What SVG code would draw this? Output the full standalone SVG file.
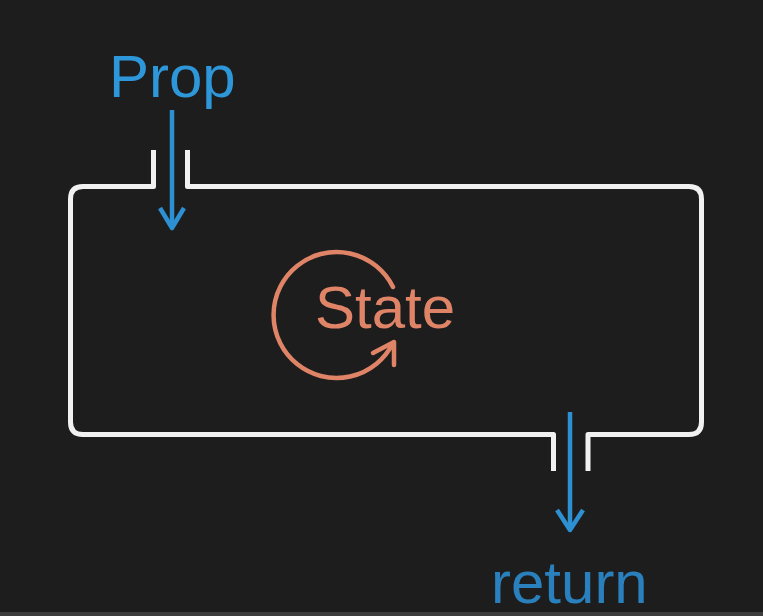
<svg xmlns="http://www.w3.org/2000/svg" width="763" height="616" viewBox="0 0 763 616">
<style>
.frame{fill:none;stroke:#f1f1f1;stroke-width:5;stroke-linejoin:round;stroke-linecap:butt}
.flow{fill:none;stroke:#2d90d2;stroke-width:4.5;stroke-linecap:butt;stroke-linejoin:round}
.lbl{font-family:"Liberation Sans",Arial,Helvetica,sans-serif;font-size:60px}
.state{fill:none;stroke:#df8467;stroke-width:4.5;stroke-linecap:round;stroke-linejoin:round}
</style>
<rect x="0" y="0" width="763" height="616" fill="#1d1d1d"/>
<rect x="0" y="612" width="763" height="4" fill="#3d3d3d"/>
<g id="component">
<path class="frame" d="M153.5 150 V186.5 H83 Q70.5 186.5 70.5 199 V422 Q70.5 434.5 83 434.5 H553.5 V471"/>
<path class="frame" d="M187.5 150 V186.5 H689 Q701.5 186.5 701.5 199 V422 Q701.5 434.5 689 434.5 H588 V471"/>
</g>
<g id="state">
<path class="state" d="M393 287 A63 63 0 1 0 393 343"/>
<path class="state" d="M373 353 L394 342 L394 365"/>
<text class="lbl" x="315" y="328" fill="#df8467">State</text>
</g>
<g id="prop">
<text class="lbl" x="109" y="97" fill="#2e97d9">Prop</text>
</g>
<g id="return">
<text class="lbl" x="491" y="603" fill="#2a80bd">return</text>
</g>
<g id="connectors">
<path class="flow" d="M172 110 V227"/>
<path class="flow" d="M160 208 L172 228 L184 208"/>
<path class="flow" d="M570 412 V529"/>
<path class="flow" d="M557 510 L570 530 L583 510"/>
</g>
</svg>
